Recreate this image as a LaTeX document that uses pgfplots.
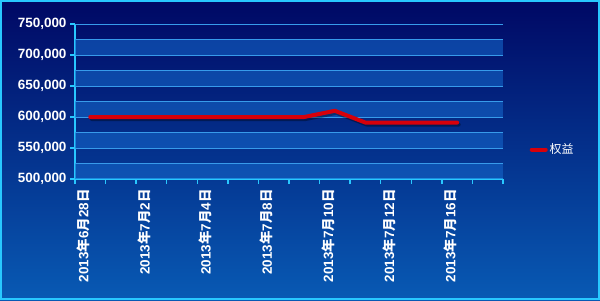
\documentclass[border=0pt]{standalone}
\usepackage{pgfplots}
\pgfplotsset{compat=1.18}
\usepackage{fontspec}
\setmainfont{Liberation Sans}
\newfontfamily\cjk{Noto Sans CJK SC}
\definecolor{bgtop}{RGB}{0,8,100}
\definecolor{bgbot}{RGB}{8,90,180}
\definecolor{axcyan}{RGB}{40,200,255}
\definecolor{gridc}{RGB}{55,155,235}
\definecolor{band}{RGB}{20,100,200}
\definecolor{linered}{RGB}{215,0,10}
\newcommand{\dlab}[2]{2013{\cjk 年}#1{\cjk 月}#2{\cjk 日}}
\pgfplotstableread{
x y
0 600000
1 600000
2 600000
3 600000
4 600000
5 600000
6 600000
7 600000
8 610000
9 591000
10 591000
11 591000
12 591000
}\equity
\begin{document}
\begin{tikzpicture}[x=1bp,y=1bp]
\useasboundingbox (0,0) rectangle (600,300);
\shade[top color=bgtop, bottom color=bgbot] (0,0) rectangle (600,300);
\draw[axcyan, line width=2bp] (1,1) rectangle (599,299);
\begin{axis}[
  at={(75bp,121bp)}, anchor=south west,
  scale only axis, width=428bp, height=155bp,
  xmin=-0.5, xmax=13.5, ymin=500000, ymax=750000,
  axis lines*=left,
  axis line style={axcyan, line width=2bp},
  xtick={0,2,...,12},
  xticklabels={{\dlab{6}{28}},{\dlab{7}{2}},{\dlab{7}{4}},{\dlab{7}{8}},{\dlab{7}{10}},{\dlab{7}{12}},{\dlab{7}{16}}},
  minor xtick={-0.5,0.5,...,13.5},
  ytick={500000,550000,...,750000},
  scaled y ticks=false,
  tick align=outside, major tick length=5bp, minor tick length=5bp,
  every major x tick/.append style={draw=none},
  every minor x tick/.append style={axcyan, line width=1.5bp},
  every major y tick/.append style={axcyan, line width=1.5bp},
  yticklabel style={text=white, font=\bfseries\fontsize{13.5}{14}\selectfont, /pgf/number format/.cd, fixed, 1000 sep={,}, assume math mode=true},
  xticklabel style={text=white, font=\bfseries\fontsize{13.5}{14}\selectfont, xshift=-7bp, yshift=-2bp, rotate=90, anchor=east},
  legend style={at={(1.055,0.19)}, anchor=west, draw=none, fill=none, text=white, font=\cjk\fontsize{12}{14}\selectfont},
  legend image code/.code={\draw[#1] (0bp,0bp) -- (14bp,0bp);},
]
\fill[band, opacity=0.6] (axis cs:-0.5,500000) rectangle (axis cs:13.5,525000);
\fill[band, opacity=0.6] (axis cs:-0.5,550000) rectangle (axis cs:13.5,575000);
\fill[band, opacity=0.6] (axis cs:-0.5,600000) rectangle (axis cs:13.5,625000);
\fill[band, opacity=0.6] (axis cs:-0.5,650000) rectangle (axis cs:13.5,675000);
\fill[band, opacity=0.6] (axis cs:-0.5,700000) rectangle (axis cs:13.5,725000);
\draw[gridc, line width=1bp] (axis cs:-0.5,525000) -- (axis cs:13.5,525000);
\draw[gridc, line width=1bp] (axis cs:-0.5,550000) -- (axis cs:13.5,550000);
\draw[gridc, line width=1bp] (axis cs:-0.5,575000) -- (axis cs:13.5,575000);
\draw[gridc, line width=1bp] (axis cs:-0.5,600000) -- (axis cs:13.5,600000);
\draw[gridc, line width=1bp] (axis cs:-0.5,625000) -- (axis cs:13.5,625000);
\draw[gridc, line width=1bp] (axis cs:-0.5,650000) -- (axis cs:13.5,650000);
\draw[gridc, line width=1bp] (axis cs:-0.5,675000) -- (axis cs:13.5,675000);
\draw[gridc, line width=1bp] (axis cs:-0.5,700000) -- (axis cs:13.5,700000);
\draw[gridc, line width=1bp] (axis cs:-0.5,725000) -- (axis cs:13.5,725000);
\draw[gridc, line width=1bp] (axis cs:-0.5,750000) -- (axis cs:13.5,750000);
\addplot[black, opacity=0.35, line width=4bp, line cap=round, line join=round, forget plot, shift={(1.5bp,-2bp)}] table[x=x,y=y] {\equity};
\addplot[linered, line width=4bp, line cap=round, line join=round] table[x=x,y=y] {\equity};
\addlegendentry{权益}
\end{axis}
\end{tikzpicture}
\end{document}
